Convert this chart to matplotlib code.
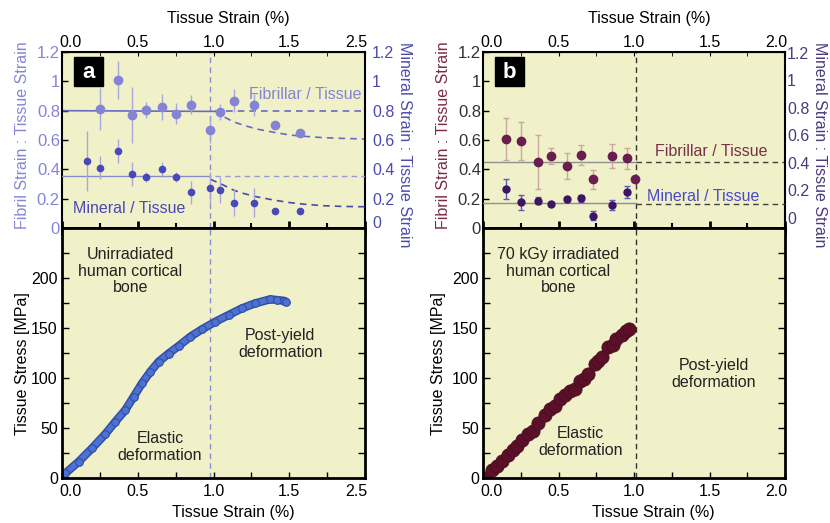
import matplotlib
matplotlib.use('Agg')
import matplotlib.pyplot as plt
from matplotlib.patches import Rectangle
from matplotlib.ticker import MultipleLocator
from matplotlib.transforms import ScaledTranslation

plt.rcParams['font.family'] = ['Liberation Sans', 'DejaVu Sans']
plt.rcParams['font.size'] = 11.5

# ---- panel a, strain ratios ----
a_strain = [0.25, 0.372, 0.46, 0.554, 0.662, 0.75, 0.854, 0.975, 1.045, 1.137, 1.265, 1.406, 1.569]
a_fib = [0.81, 1.01, 0.77, 0.805, 0.823, 0.78, 0.84, 0.668, 0.789, 0.868, 0.837, 0.70, 0.65]
a_fib_err = [0.145, 0.13, 0.19, 0.057, 0.09, 0.07, 0.066, 0.09, 0.055, 0.08, 0.075, 0, 0]
a_min_strain = [0.167, 0.25, 0.372, 0.46, 0.554, 0.662, 0.75, 0.854, 0.975, 1.045, 1.137, 1.265, 1.406, 1.569]
a_min = [0.457, 0.411, 0.525, 0.368, 0.35, 0.40, 0.35, 0.243, 0.27, 0.26, 0.173, 0.173, 0.118, 0.118]
a_min_err = [0.205, 0.08, 0.08, 0.08, 0.035, 0.05, 0.035, 0.08, 0.11, 0.09, 0.09, 0.1, 0, 0]
a_fib_level = 0.80
a_min_level = 0.355
a_fib_fit_x = [1.01, 1.065, 1.13, 1.2, 1.285, 1.4, 1.505, 1.6, 1.725, 1.85, 2.0]
a_fib_fit = [0.80, 0.76, 0.725, 0.70, 0.675, 0.652, 0.634, 0.625, 0.616, 0.611, 0.607]
a_min_fit_x = [0.98, 1.065, 1.13, 1.2, 1.285, 1.4, 1.505, 1.6, 1.725, 1.85, 2.0]
a_min_fit = [0.332, 0.293, 0.259, 0.235, 0.213, 0.19, 0.173, 0.162, 0.152, 0.147, 0.145]
a_yield = 0.98

# ---- panel a, stress-strain ----
a_ss_strain = [0.0, 0.022, 0.11, 0.198, 0.286, 0.352, 0.418, 0.473, 0.528, 0.583, 0.638,
               0.704, 0.77, 0.847, 0.924, 1.012, 1.1, 1.188, 1.276, 1.375, 1.42, 1.463, 1.478]
a_ss_stress = [0, 4.7, 16.3, 29.7, 44, 56.3, 68, 81.3, 94.7, 106.3, 116.3,
               124.5, 132, 141.3, 148.7, 156.3, 163, 169.7, 174.7, 178.7, 178, 177.3, 176.3]

# ---- panel b, strain ratios ----
b_strain = [0.154, 0.254, 0.364, 0.448, 0.558, 0.65, 0.728, 0.855, 0.952, 1.007]
b_fib = [0.607, 0.595, 0.452, 0.491, 0.423, 0.498, 0.332, 0.491, 0.475, 0.332]
b_fib_err = [0.14, 0.13, 0.185, 0.055, 0.088, 0.07, 0.065, 0.085, 0.07, 0]
b_min_strain = [0.154, 0.254, 0.364, 0.448, 0.558, 0.65, 0.728, 0.855, 0.952]
b_min = [0.211, 0.114, 0.126, 0.102, 0.136, 0.143, 0.017, 0.094, 0.187]
b_min_err = [0.07, 0.055, 0.028, 0.015, 0.02, 0.025, 0.033, 0.033, 0.043]
b_fib_level = 0.45
b_min_level = 0.111
b_min_level_post = 0.102
b_yield = 1.01

# ---- panel b, stress-strain ----
b_ss_strain = [0.013, 0.057, 0.09, 0.123, 0.168, 0.2, 0.223, 0.26, 0.3, 0.33, 0.366, 0.41, 0.443,
               0.475, 0.509, 0.54, 0.575, 0.61, 0.64, 0.67, 0.697, 0.74, 0.76, 0.785, 0.83,
               0.86, 0.884, 0.92, 0.95, 0.97]
b_ss_stress = [0, 8.4, 12, 16.8, 23.5, 28, 32, 38, 43.6, 47, 55, 62.7, 68.7,
               72, 78.8, 83, 87, 89.5, 97, 99, 104, 114, 117, 120.6, 130.7,
               133, 139, 143, 147.4, 149]

ratio_ticks = [0, 0.2, 0.4, 0.6, 0.8, 1.0, 1.2]
ratio_labels = ['0', '0.2', '0.4', '0.6', '0.8', '1', '1.2']
strain_ticks = [0, 0.5, 1.0, 1.5, 2.0]
a_strain_labels = ['0.0', '0.5', '1.0', '1.5', '2.5']
b_strain_labels = ['0.0', '0.5', '1.0', '1.5', '2.0']
stress_ticks = [0, 50, 100, 150, 200]

bg = '#f1f1c9'
fig = plt.figure(figsize=(8.3, 5.23), dpi=100)


def px_axes(x0, x1, y0, y1):
    return fig.add_axes([x0 / 830, 1 - y1 / 523, (x1 - x0) / 830, (y1 - y0) / 523])


def nudge(labels, dx0=0.08, dx1=-0.09, dy=0.0):
    labels[0].set_transform(labels[0].get_transform() + ScaledTranslation(dx0, dy, fig.dpi_scale_trans))
    labels[-1].set_transform(labels[-1].get_transform() + ScaledTranslation(dx1, 0, fig.dpi_scale_trans))


def top_panel(ax, xlabels, left_col, right_col, left_lab_col, right_ylim, rpad, rlab_x):
    ax.set_facecolor(bg)
    ax.set_xlim(0, 2)
    ax.set_ylim(0, 1.2)
    for s in ax.spines.values():
        s.set_linewidth(1.5)
    ax.spines['bottom'].set_linewidth(2)
    ax.xaxis.set_major_locator(MultipleLocator(0.5))
    ax.xaxis.set_minor_locator(MultipleLocator(0.25))
    ax.tick_params(axis='x', which='major', direction='inout', length=10, width=2,
                   top=False, labelbottom=False)
    ax.tick_params(axis='x', which='minor', direction='inout', length=7, width=1.5, top=False)
    ax.set_yticks(ratio_ticks)
    ax.set_yticklabels(ratio_labels)
    ax.tick_params(axis='y', direction='in', length=4, width=1, left=True, right=True,
                   labelcolor=left_col, pad=1.5, labelsize=12)
    sec = ax.secondary_xaxis('top')
    sec.set_xticks(strain_ticks)
    sec.set_xticklabels(xlabels)
    sec.xaxis.set_minor_locator(MultipleLocator(0.25))
    sec.tick_params(which='both', direction='in', length=3, pad=1.5)
    tw = ax.twinx()
    tw.set_ylim(*right_ylim)
    tw.set_yticks(ratio_ticks)
    tw.set_yticklabels(ratio_labels)
    tw.tick_params(axis='y', length=0, labelcolor=right_col, pad=rpad)
    for s in tw.spines.values():
        s.set_visible(False)
    ax.text(-0.132, 0.53, 'Fibril Strain : Tissue Strain', transform=ax.transAxes,
            rotation=90, ha='center', va='center', color=left_lab_col)
    ax.text(rlab_x, 0.475, 'Mineral Strain : Tissue Strain', transform=ax.transAxes,
            rotation=270, ha='center', va='center', color=right_col)
    ax.text(0.55, 1.193, 'Tissue Strain (%)', transform=ax.transAxes, ha='center', va='center')
    nudge(sec.get_xticklabels())
    return tw


def bottom_panel(ax, xlabels, ylab_x):
    ax.set_facecolor(bg)
    ax.set_xlim(0, 2)
    ax.set_ylim(0, 250)
    for s in ax.spines.values():
        s.set_linewidth(2)
    ax.set_xticks(strain_ticks)
    ax.set_xticklabels(xlabels)
    ax.xaxis.set_minor_locator(MultipleLocator(0.25))
    ax.tick_params(axis='x', which='both', direction='in', length=4, width=1, top=False, pad=4)
    ax.set_yticks(stress_ticks)
    ax.yaxis.set_minor_locator(MultipleLocator(25))
    ax.tick_params(axis='y', which='both', direction='in', length=5, width=1,
                   left=True, right=True, pad=3)
    ax.text(ylab_x, 0.456, 'Tissue Stress [MPa]', transform=ax.transAxes,
            rotation=90, ha='center', va='center')
    ax.text(0.564, -0.14, 'Tissue Strain (%)', transform=ax.transAxes, ha='center', va='center')
    nudge(ax.get_xticklabels())


def letter(ax, s):
    ax.add_patch(Rectangle((0.04, 0.807), 0.0957, 0.165, transform=ax.transAxes,
                           fc='black', ec='black', zorder=5))
    ax.text(0.088, 0.885, s, transform=ax.transAxes, ha='center', va='center',
            color='white', fontsize=16, fontweight='bold', zorder=6)


a_top = px_axes(62, 365, 52, 228)
a_bot = px_axes(62, 365, 228, 478)
b_top = px_axes(483, 785, 52, 228)
b_bot = px_axes(483, 785, 228, 478)

# ================= panel a =================
fib_a = '#8484d4'
min_a = '#4848b8'
a_tw = top_panel(a_top, a_strain_labels, '#8585d5', '#4b4bad', '#8585d5', (0, 1.2), 5, 1.13)
nudge(a_tw.get_yticklabels(), dx0=0, dx1=0, dy=0.06)
letter(a_top, 'a')
a_top.axvline(a_yield, color='#8c8cd0', lw=1, ls=(0, (4, 3)))
a_top.plot([0, a_yield + 0.03], [a_fib_level, a_fib_level - 0.005], color='#6a6abf', lw=1.2)
a_top.plot([a_yield + 0.1, 2.0], [a_fib_level - 0.005] * 2, color='#6a6abf', lw=1.2, ls=(0, (4, 3)))
a_top.plot(a_fib_fit_x, a_fib_fit, color='#6a6abf', lw=1.2, ls=(0, (4, 3)))
a_top.errorbar(a_strain, a_fib, yerr=a_fib_err, fmt='o', ms=6, color=fib_a,
               ecolor='#a8a8dc', elinewidth=1, capsize=0)
a_tw.plot([0, a_yield], [a_min_level] * 2, color='#8a8ac8', lw=1)
a_tw.plot([a_yield + 0.03, 2.0], [a_min_level] * 2, color='#9a9ad2', lw=1, ls=(0, (4, 3)))
a_tw.plot(a_min_fit_x, a_min_fit, color='#4a4aa8', lw=1.2, ls=(0, (4, 3)))
a_tw.errorbar(a_min_strain, a_min, yerr=a_min_err, fmt='o', ms=4.5, color=min_a,
              ecolor='#a8a8dc', elinewidth=1, capsize=0)
a_top.text(1.604, 0.912, 'Fibrillar / Tissue', color='#8484d4', ha='center', va='center')
a_top.text(0.442, 0.135, 'Mineral / Tissue', color='#4848b8', ha='center', va='center')

bottom_panel(a_bot, a_strain_labels, -0.132)
a_bot.axvline(a_yield, color='#8c8cd0', lw=1, ls=(0, (4, 3)))
a_bot.plot(a_ss_strain, a_ss_stress, '-', color='#2f4fa8', lw=6, solid_capstyle='round')
a_bot.plot(a_ss_strain, a_ss_stress, '-', color='#4f72d2', lw=3.8)
a_bot.plot(a_ss_strain, a_ss_stress, 'o', ms=5.5, mfc='#4f72d2', mec='#2f4fa8', mew=0.8)
a_bot.text(0.45, 207, 'Unirradiated\nhuman cortical\nbone', ha='center', va='center',
           color='#222222', linespacing=1.1)
a_bot.text(1.44, 134, 'Post-yield\ndeformation', ha='center', va='center', color='#222222',
           linespacing=1.1)
a_bot.text(0.647, 31, 'Elastic\ndeformation', ha='center', va='center', color='#222222',
           linespacing=1.1)

# ================= panel b =================
fib_b = '#6a1e50'
min_b = '#3c1660'
b_tw = top_panel(b_top, b_strain_labels, '#333333', '#4b3b7b', '#7a2a48', (-0.073, 1.207), 1.5, 1.115)
letter(b_top, 'b')
b_top.axvline(b_yield, color='#333333', lw=1, ls=(0, (4, 3)))
b_top.plot([0, b_yield], [b_fib_level] * 2, color='#909090', lw=1)
b_top.plot([b_yield, 2.0], [b_fib_level - 0.002] * 2, color='#404040', lw=1, ls=(0, (4, 3)))
b_top.errorbar(b_strain, b_fib, yerr=b_fib_err, fmt='o', ms=6, color=fib_b,
               ecolor='#c8a8a0', elinewidth=1, capsize=2)
b_tw.plot([0, b_yield], [b_min_level] * 2, color='#909090', lw=1)
b_tw.plot([b_yield, 2.0], [b_min_level_post] * 2, color='#404040', lw=1, ls=(0, (4, 3)))
b_tw.errorbar(b_min_strain, b_min, yerr=b_min_err, fmt='o', ms=5, color=min_b,
              ecolor='#5a5ac0', elinewidth=1, capsize=2)
b_top.text(1.51, 0.52, 'Fibrillar / Tissue', color='#7a3048', ha='center', va='center')
b_top.text(1.455, 0.218, 'Mineral / Tissue', color='#4a4ac8', ha='center', va='center')

bottom_panel(b_bot, b_strain_labels, -0.146)
b_bot.axvline(b_yield, color='#333333', lw=1, ls=(0, (4, 3)))
b_bot.plot(b_ss_strain, b_ss_stress, 'o', ms=9.5, mfc='#5a1028', mec='#4a0c20', mew=0.6)
b_bot.text(0.498, 207, '70 kGy irradiated\nhuman cortical\nbone', ha='center', va='center',
           color='#222222', linespacing=1.1)
b_bot.text(1.528, 104, 'Post-yield\ndeformation', ha='center', va='center', color='#222222',
           linespacing=1.1)
b_bot.text(0.648, 36, 'Elastic\ndeformation', ha='center', va='center', color='#222222',
           linespacing=1.1)

fig.savefig('out.png', dpi=100)
